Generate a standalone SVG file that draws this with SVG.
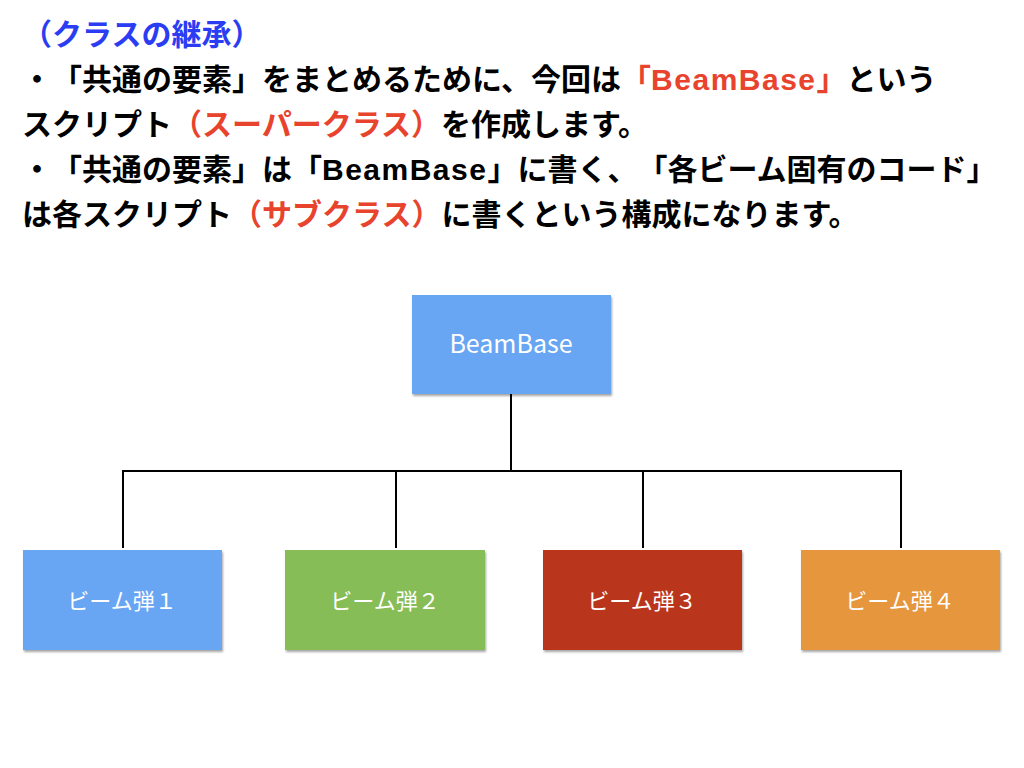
<svg xmlns="http://www.w3.org/2000/svg" width="1024" height="768" viewBox="0 0 1024 768">
<style>
.t{font-family:"Noto Sans CJK JP","Noto Sans",sans-serif;font-size:30px;font-weight:bold;fill:#000;text-spacing-trim:space-all}
.r{fill:#E8432D}
.b{fill:#2B3DF2}
.lat{font-family:"Liberation Sans","Noto Sans CJK JP",sans-serif}
.t .lat{letter-spacing:1.5px}
.lbl{font-family:"Noto Sans CJK JP","Noto Sans",sans-serif;font-size:22px;fill:#fff;text-anchor:middle}
.box{filter:url(#sh)}
.ln{stroke:#000;stroke-width:2;fill:none}
</style>
<defs>
<filter id="sh" x="-5%" y="-5%" width="110%" height="115%">
<feDropShadow dx="1" dy="2" stdDeviation="1.2" flood-color="#000" flood-opacity="0.35"/>
</filter>
</defs>
<rect width="1024" height="768" fill="#fff"/>
<g id="text">
<text class="t b" x="22" y="45">（クラスの継承）</text>
<text class="t" x="22" y="90">・「共通の要素」をまとめるために、今回は<tspan class="r">「<tspan class="lat">BeamBase</tspan>」</tspan>という</text>
<text class="t" x="22" y="135">スクリプト<tspan class="r">（スーパークラス）</tspan>を作成します。</text>
<text class="t" x="22" y="180">・「共通の要素」は「<tspan class="lat">BeamBase</tspan>」に書く、「各ビーム固有のコード」</text>
<text class="t" x="22" y="225">は各スクリプト<tspan class="r">（サブクラス）</tspan>に書くという構成になります。</text>
</g>
<g id="connectors">
<path class="ln" d="M511 394 V471"/>
<path class="ln" d="M123 471 H901"/>
<path class="ln" d="M123 470 V548 M396 470 V548 M643 470 V548 M901 470 V548"/>
</g>
<g id="beambase">
<rect class="box" x="412" y="295" width="199" height="99" fill="#67A5F3"/>
<text class="lbl lat" x="511" y="353" style="font-size:25px">BeamBase</text>
</g>
<g id="beam1">
<rect class="box" x="23" y="550" width="199" height="100" fill="#67A5F3"/>
<text class="lbl" x="122" y="609">ビーム弾１</text>
</g>
<g id="beam2">
<rect class="box" x="285" y="550" width="200" height="100" fill="#86BD56"/>
<text class="lbl" x="385" y="609">ビーム弾２</text>
</g>
<g id="beam3">
<rect class="box" x="543" y="550" width="199" height="100" fill="#B9361F"/>
<text class="lbl" x="642" y="609">ビーム弾３</text>
</g>
<g id="beam4">
<rect class="box" x="801" y="550" width="199" height="100" fill="#E6963C"/>
<text class="lbl" x="900" y="609">ビーム弾４</text>
</g>
</svg>
